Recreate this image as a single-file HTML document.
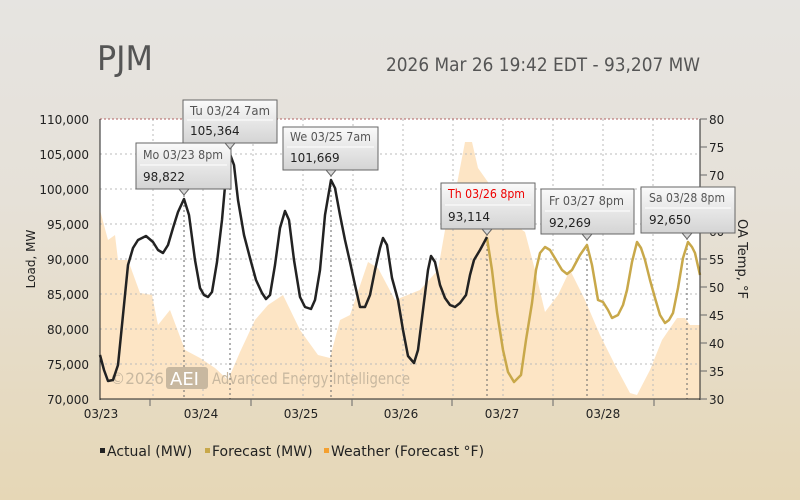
<!DOCTYPE html>
<html><head><meta charset="utf-8"><style>
html,body{margin:0;padding:0}
body{width:800px;height:500px;overflow:hidden;background:linear-gradient(#e6e4e1 0%,#e6e1d8 40%,#e6d7b6 100%);font-family:"DejaVu Sans","Liberation Sans",sans-serif}
</style></head><body>
<svg width="800" height="500" viewBox="0 0 800 500" xmlns="http://www.w3.org/2000/svg" style="position:absolute;left:0;top:0">
<defs>
<linearGradient id="tg" x1="0" y1="0" x2="0" y2="1"><stop offset="0" stop-color="#fafafa"/><stop offset="1" stop-color="#d4d4d4"/></linearGradient>
</defs>
<text x="97" y="70" font-family="DejaVu Sans" font-size="34" fill="#555" textLength="56" lengthAdjust="spacingAndGlyphs">PJM</text>
<text x="386" y="71" font-family="DejaVu Sans" font-size="19" fill="#555" textLength="314" lengthAdjust="spacingAndGlyphs">2026 Mar 26 19:42 EDT - 93,207 MW</text>
<rect x="100" y="119" width="600" height="280" fill="#fff"/>
<polygon fill="#fde2bf" fill-opacity="0.9" points="100,399 100,210 108,240 115,235 118,260 128,260 140,293 152,295 158,325 170,310 185,350 200,358 215,368 228,380 240,352 255,320 268,305 283,295 300,330 318,355 330,358 340,320 350,315 368,262 378,268 395,300 420,290 438,270 445,230 452,210 465,142 472,142 478,168 490,185 508,220 525,232 535,270 545,312 558,295 570,270 585,300 600,335 615,365 630,393 637,395 650,370 662,340 677,318 685,318 690,325 700,325 700,399"/>
<g stroke="#bbb" stroke-width="1" stroke-dasharray="2,3">
<line x1="100" y1="154" x2="700" y2="154"/><line x1="100" y1="189" x2="700" y2="189"/><line x1="100" y1="224" x2="700" y2="224"/><line x1="100" y1="259" x2="700" y2="259"/><line x1="100" y1="294" x2="700" y2="294"/><line x1="100" y1="329" x2="700" y2="329"/><line x1="100" y1="364" x2="700" y2="364"/>
<line x1="153" y1="119" x2="153" y2="399"/><line x1="203" y1="119" x2="203" y2="399"/><line x1="253" y1="119" x2="253" y2="399"/><line x1="303" y1="119" x2="303" y2="399"/><line x1="353" y1="119" x2="353" y2="399"/><line x1="403" y1="119" x2="403" y2="399"/><line x1="453" y1="119" x2="453" y2="399"/><line x1="503" y1="119" x2="503" y2="399"/><line x1="553" y1="119" x2="553" y2="399"/><line x1="603" y1="119" x2="603" y2="399"/><line x1="653" y1="119" x2="653" y2="399"/>
</g>
<g stroke="#666" stroke-width="1" stroke-dasharray="2,3">
<line x1="184" y1="190" x2="184" y2="399"/><line x1="230" y1="143" x2="230" y2="399"/><line x1="331" y1="170" x2="331" y2="399"/><line x1="487" y1="229" x2="487" y2="399"/><line x1="587" y1="234" x2="587" y2="399"/><line x1="687" y1="233" x2="687" y2="399"/>
</g>
<line x1="100" y1="119" x2="700" y2="119" stroke="#b06060" stroke-dasharray="2,2"/>
<text x="110" y="384" font-size="16" fill="#c8b8a0" textLength="54" lengthAdjust="spacingAndGlyphs">©2026</text>
<rect x="166" y="367" width="42" height="22" rx="3" fill="#c8b8a0"/>
<text x="170" y="385" font-size="18" fill="#fff">AEI</text>
<text x="212" y="384" font-size="16" fill="#c8b8a0" textLength="198" lengthAdjust="spacingAndGlyphs">Advanced Energy Intelligence</text>
<polyline fill="none" stroke="#c8a84a" stroke-width="2.5" stroke-linejoin="round" points="487,238 492,270 497,312 503,350 508,372 514,382 521,375 526,340 532,303 536,270 540,253 545,247 550,250 556,260 562,270 567,274 572,270 580,255 587,245 592,265 598,300 603,302 608,310 612,318 618,315 623,305 627,290 632,262 637,242 641,248 645,260 650,280 655,298 660,315 665,323 669,320 673,313 678,288 683,258 688,242 692,247 695,253 700,275"/>
<polyline fill="none" stroke="#222" stroke-width="2.5" stroke-linejoin="round" points="100,355 104,370 108,381 113,380 118,365 123,315 128,265 133,248 138,240 146,236 153,242 158,250 163,253 168,245 173,228 178,212 184,199 189,215 195,260 200,288 204,295 208,297 212,292 217,262 222,220 226,175 230,154 234,165 238,200 244,235 250,258 256,280 262,293 266,299 270,295 275,265 280,228 285,211 289,220 294,260 300,297 305,307 311,309 315,300 320,270 325,215 331,180 335,188 340,215 345,240 350,262 355,285 360,307 365,307 370,295 375,270 380,248 383,238 387,245 392,278 398,300 403,330 408,356 414,363 418,350 423,310 428,270 431,256 435,262 440,285 445,298 450,305 455,307 460,303 466,295 470,275 474,260 480,250 487,237"/>
<line x1="100" y1="119" x2="100" y2="400" stroke="#222"/>
<line x1="100" y1="399" x2="700" y2="399" stroke="#222"/>
<line x1="700" y1="119" x2="700" y2="400" stroke="#222"/>
<g stroke="#666">
<line x1="150" y1="399" x2="150" y2="406"/><line x1="251" y1="399" x2="251" y2="406"/><line x1="352" y1="399" x2="352" y2="406"/><line x1="452" y1="399" x2="452" y2="406"/><line x1="553" y1="399" x2="553" y2="406"/><line x1="654" y1="399" x2="654" y2="406"/>
<line x1="700" y1="119" x2="707" y2="119"/><line x1="700" y1="147" x2="707" y2="147"/><line x1="700" y1="175" x2="707" y2="175"/><line x1="700" y1="203" x2="707" y2="203"/><line x1="700" y1="231" x2="707" y2="231"/><line x1="700" y1="259" x2="707" y2="259"/><line x1="700" y1="287" x2="707" y2="287"/><line x1="700" y1="315" x2="707" y2="315"/><line x1="700" y1="343" x2="707" y2="343"/><line x1="700" y1="371" x2="707" y2="371"/><line x1="700" y1="399" x2="707" y2="399"/>
</g>
<g font-size="12" fill="#222" text-anchor="end">
<text x="89" y="124">110,000</text><text x="89" y="159">105,000</text><text x="89" y="194">100,000</text><text x="89" y="229">95,000</text><text x="89" y="264">90,000</text><text x="89" y="299">85,000</text><text x="89" y="334">80,000</text><text x="89" y="369">75,000</text><text x="89" y="404">70,000</text>
</g>
<g font-size="12" fill="#222">
<text x="709" y="124">80</text><text x="709" y="152">75</text><text x="709" y="180">70</text><text x="709" y="208">65</text><text x="709" y="236">60</text><text x="709" y="264">55</text><text x="709" y="292">50</text><text x="709" y="320">45</text><text x="709" y="348">40</text><text x="709" y="376">35</text><text x="709" y="404">30</text>
</g>
<g font-size="12" fill="#222" text-anchor="middle">
<text x="101" y="418">03/23</text><text x="201" y="418">03/24</text><text x="301" y="418">03/25</text><text x="401" y="418">03/26</text><text x="502" y="418">03/27</text><text x="603" y="418">03/28</text>
</g>
<text transform="translate(35,259) rotate(-90)" font-size="12" fill="#222" text-anchor="middle">Load, MW</text>
<text transform="translate(738,259) rotate(90)" font-size="13" fill="#222" text-anchor="middle">OA Temp, °F</text>
<g font-size="14" fill="#222">
<rect x="100" y="448" width="5" height="5" fill="#222"/><text x="107" y="456">Actual (MW)</text>
<rect x="205" y="448" width="5" height="5" fill="#c8a84a"/><text x="212" y="456">Forecast (MW)</text>
<rect x="324" y="448" width="5" height="5" fill="#f4a030"/><text x="331" y="456">Weather (Forecast °F)</text>
</g>
<g font-size="12">
<g><rect x="136" y="143" width="95" height="46" fill="url(#tg)" stroke="#666"/><line x1="140" y1="165" x2="227" y2="165" stroke="#fff"/><polygon points="179,189 189,189 184,195" fill="#d6d6d6" stroke="#666"/><text x="143" y="159" fill="#555" textLength="80" lengthAdjust="spacingAndGlyphs">Mo 03/23 8pm</text><text x="143" y="181" fill="#222">98,822</text></g>
<g><rect x="183" y="100" width="94" height="43" fill="url(#tg)" stroke="#666"/><line x1="187" y1="120" x2="273" y2="120" stroke="#fff"/><polygon points="225,143 235,143 230,149" fill="#d6d6d6" stroke="#666"/><text x="190" y="115" fill="#555" textLength="80" lengthAdjust="spacingAndGlyphs">Tu 03/24 7am</text><text x="190" y="135" fill="#222">105,364</text></g>
<g><rect x="283" y="127" width="95" height="43" fill="url(#tg)" stroke="#666"/><line x1="287" y1="147" x2="374" y2="147" stroke="#fff"/><polygon points="326,170 336,170 331,176" fill="#d6d6d6" stroke="#666"/><text x="290" y="141" fill="#555" textLength="81" lengthAdjust="spacingAndGlyphs">We 03/25 7am</text><text x="290" y="162" fill="#222">101,669</text></g>
<g><rect x="441" y="183" width="94" height="46" fill="url(#tg)" stroke="#666"/><line x1="445" y1="205" x2="531" y2="205" stroke="#fff"/><polygon points="482,229 492,229 487,235" fill="#d6d6d6" stroke="#666"/><text x="448" y="198" fill="#e00" textLength="77" lengthAdjust="spacingAndGlyphs">Th 03/26 8pm</text><text x="448" y="221" fill="#222">93,114</text></g>
<g><rect x="541" y="189" width="93" height="45" fill="url(#tg)" stroke="#666"/><line x1="545" y1="211" x2="630" y2="211" stroke="#fff"/><polygon points="582,234 592,234 587,240" fill="#d6d6d6" stroke="#666"/><text x="549" y="205" fill="#555" textLength="75" lengthAdjust="spacingAndGlyphs">Fr 03/27 8pm</text><text x="549" y="227" fill="#222">92,269</text></g>
<g><rect x="641" y="187" width="94" height="46" fill="url(#tg)" stroke="#666"/><line x1="645" y1="208" x2="731" y2="208" stroke="#fff"/><polygon points="682,233 692,233 687,239" fill="#d6d6d6" stroke="#666"/><text x="649" y="202" fill="#555" textLength="76" lengthAdjust="spacingAndGlyphs">Sa 03/28 8pm</text><text x="649" y="224" fill="#222">92,650</text></g>
</g>
</svg>
</body></html>
